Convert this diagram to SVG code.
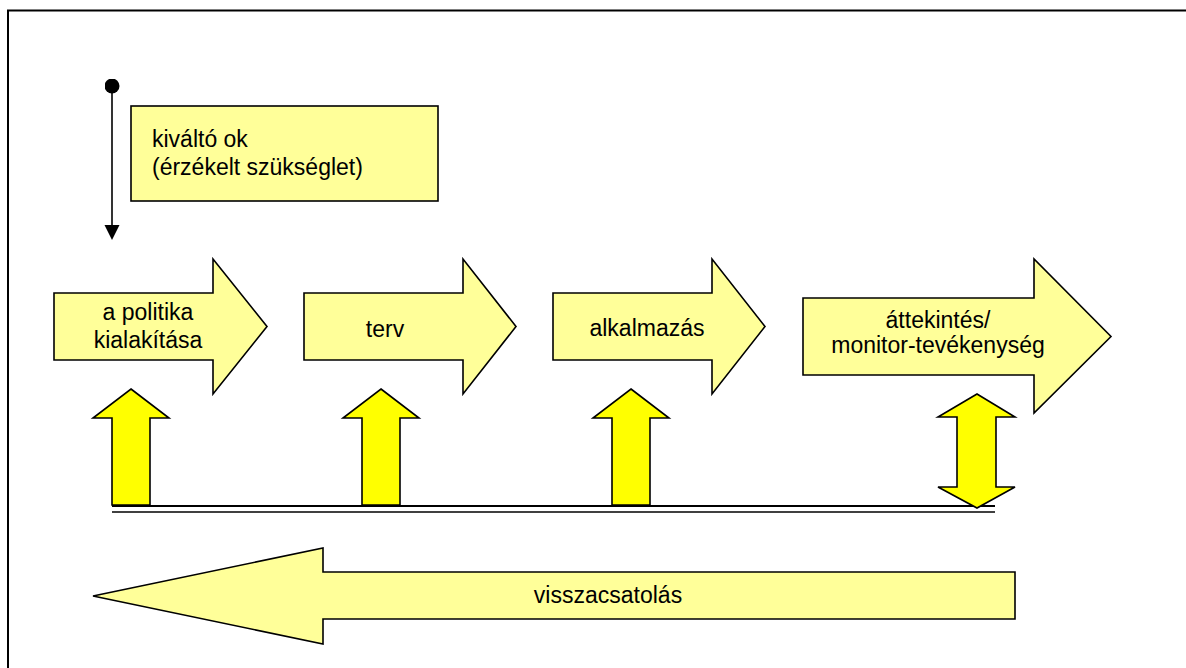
<svg xmlns="http://www.w3.org/2000/svg" width="1186" height="668" viewBox="0 0 1186 668">
<style>
.pale{fill:#FFFF99;stroke:#000;stroke-width:1.6;stroke-linejoin:miter}
.bright{fill:#FFFF00;stroke:#000;stroke-width:1.6;stroke-linejoin:miter}
.t{font-family:"Liberation Sans",Arial,sans-serif;font-size:23px;fill:#000}
.c{text-anchor:middle}
.ln{stroke:#000;fill:none}
</style>
<defs>
<marker id="head" viewBox="0 0 16 16" refX="8" refY="16" markerWidth="16" markerHeight="16" markerUnits="userSpaceOnUse" orient="auto-start-reverse">
<path d="M0,0 L16,0 L8,16 Z" fill="#000"/>
</marker>
<marker id="dot" viewBox="0 0 16 16" refX="8" refY="8" markerWidth="15" markerHeight="15" markerUnits="userSpaceOnUse">
<circle cx="8" cy="8" r="8" fill="#000"/>
</marker>
</defs>
<rect x="0" y="0" width="1186" height="668" fill="#fff"/>
<rect id="frame" x="8" y="10.5" width="1200" height="680" fill="none" stroke="#000" stroke-width="2"/>

<g id="connectors">
<path class="ln" d="M112,86 V225" stroke-width="1.6" marker-start="url(#dot)"/>
<path d="M104.5,225 L119.5,225 L112,240 Z" fill="#000"/>
<line class="ln" x1="112" y1="506" x2="995" y2="506" stroke-width="2"/>
<line class="ln" x1="112" y1="512" x2="995" y2="512" stroke-width="1.5"/>
</g>

<g id="trigger">
<rect class="pale" x="131" y="106" width="307" height="95"/>
<text class="t" x="152" y="147">kiváltó ok</text>
<text class="t" x="152" y="175">(érzékelt szükséglet)</text>
</g>

<g id="policy">
<path class="pale" d="M54,293 H213 V259 L267,326.5 L213,394 V360 H54 Z"/>
<text class="t c" x="148" y="320">a politika</text>
<text class="t c" x="148" y="348">kialakítása</text>
</g>

<g id="plan">
<path class="pale" d="M304,293 H463 V259 L516,326.5 L463,394 V360 H304 Z"/>
<text class="t c" x="385" y="337">terv</text>
</g>

<g id="application">
<path class="pale" d="M553,293 H712 V259 L765,326.5 L712,394 V360 H553 Z"/>
<text class="t c" x="647" y="336">alkalmazás</text>
</g>

<g id="review">
<path class="pale" d="M803,298 H1034 V259 L1111,336.5 L1034,413 V375 H803 Z"/>
<text class="t c" x="938" y="328">áttekintés/</text>
<text class="t c" x="938" y="353">monitor-tevékenység</text>
</g>

<g id="up1">
<path class="bright" d="M131,389 L169,418 H150 V505 H112 V418 H93 Z"/>
</g>
<g id="up2">
<path class="bright" d="M381,389 L419,418 H400 V505 H362 V418 H343 Z"/>
</g>
<g id="up3">
<path class="bright" d="M631,389 L669,418 H650 V505 H612 V418 H593 Z"/>
</g>
<g id="updown">
<path class="bright" d="M977,394 L1015,417 H996 V487 H1015 L977,508 L938,487 H957 V417 H938 Z"/>
</g>

<g id="feedback">
<path class="pale" d="M93,596 L323,548 V572 H1015 V619 H323 V644 Z"/>
<text class="t c" x="608" y="603">visszacsatolás</text>
</g>
</svg>
